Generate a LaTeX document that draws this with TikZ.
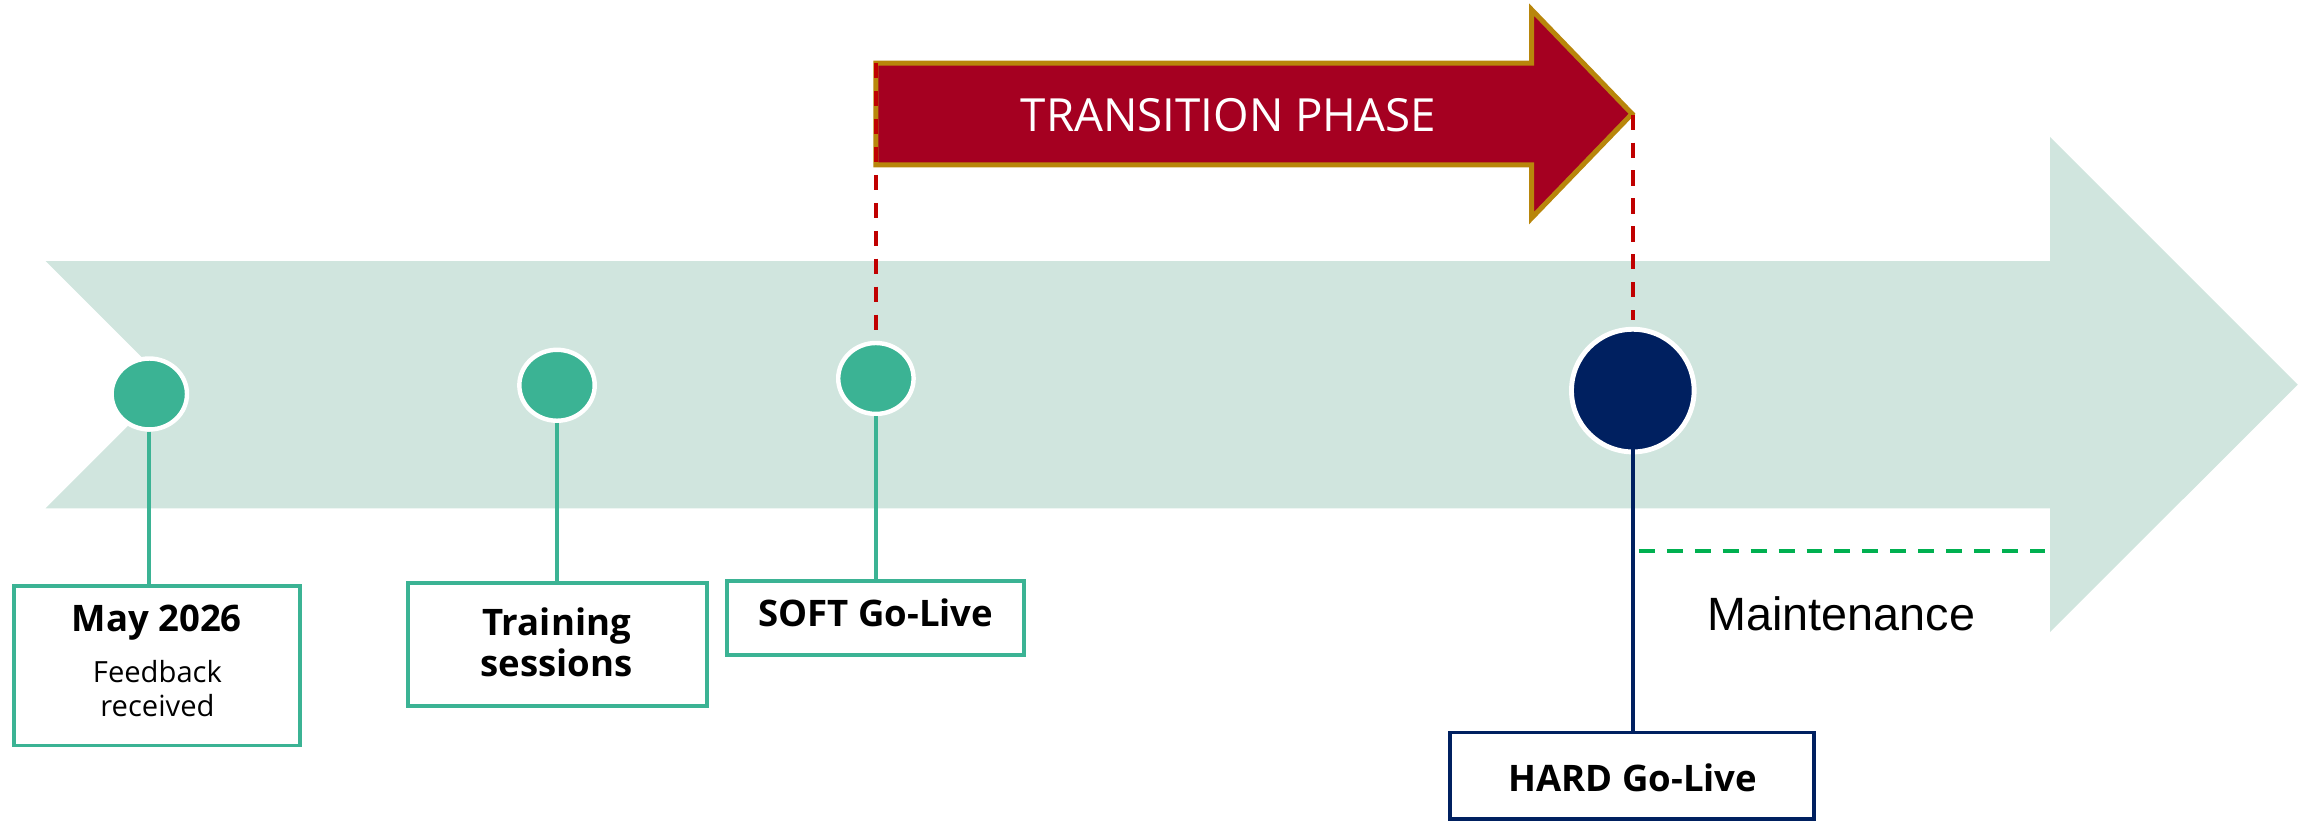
\documentclass[tikz,border=0pt]{standalone}
\usepackage{fontspec}
\setmainfont{Open Sans}
\newfontfamily\arialfont{Liberation Sans}
\usetikzlibrary{shapes.geometric}
\definecolor{tlgreen}{HTML}{D0E5DE}
\definecolor{dotgreen}{HTML}{3BB394}
\definecolor{navyblue}{HTML}{002060}
\definecolor{phasered}{HTML}{A50021}
\definecolor{phasegold}{HTML}{B8860B}
\definecolor{dashred}{HTML}{C00000}
\definecolor{dashgreen}{HTML}{00B050}
\begin{document}
\begin{tikzpicture}[x=0.0147832cm,y=-0.0147832cm,
  dot/.style={ellipse, fill=dotgreen, draw=white, line width=1.26pt, inner sep=0pt,
              minimum width=21.45pt, minimum height=20.19pt},
  bigdot/.style={circle, fill=navyblue, draw=white, line width=1.39pt, inner sep=0pt,
              minimum size=34.9pt},
  gbox/.style={draw=dotgreen, line width=1.1pt, fill=white, inner sep=0pt},
  nbox/.style={draw=navyblue, line width=1.1pt, fill=white, inner sep=0pt},
  boldlbl/.style={font=\fontsize{10.4}{12}\selectfont\bfseries, anchor=base, inner sep=0pt},
  smalllbl/.style={font=\fontsize{8.3}{10}\selectfont, anchor=base, inner sep=0pt},
  gline/.style={draw=dotgreen, line width=1.1pt},
  rdash/.style={draw=dashred, line width=1.15pt, dash pattern=on 4.33pt off 3.62pt},
  gdash/.style={draw=dashgreen, line width=1.1pt, dash pattern=on 4.54pt off 3.41pt},
  ]
\useasboundingbox (0,0) rectangle (1568,558);

% big timeline arrow
\fill[tlgreen] (30.9,176.6) -- (1386.7,176.6) -- (1386.7,92.5) -- (1554.3,260.2)
  -- (1386.7,427.5) -- (1386.7,343.8) -- (30.9,343.8) -- (114.5,260.2) -- cycle;

% transition phase arrow
\draw[fill=phasered, draw=phasegold, line width=1.43pt] (592.5,42.7) -- (1036,42.7)
  -- (1036,6.5) -- (1104,77) -- (1036,147.5) -- (1036,111.5) -- (592.5,111.5) -- cycle;
\coordinate (ptl) at (592.5,42.7);
\coordinate (ptip) at (1104.7,77.5);
\node[font=\fontsize{13}{15}\selectfont, text=white, anchor=base, inner sep=0pt] (tp)
  at (831,89) {TRANSITION PHASE};

% milestones
\node[dot] (c1) at (101,266.5) {};
\node[dot] (c2) at (376.8,260.6) {};
\node[dot] (c3) at (592.5,256) {};
\node[bigdot] (c4) at (1104.5,264.2) {};

% boxes
\node[gbox, minimum width=81.52pt, minimum height=45.43pt] (b1) at (106.1,450.3) {};
\node[gbox, minimum width=85.05pt, minimum height=35.12pt] (b2) at (377.1,435.8) {};
\node[gbox, minimum width=84.5pt, minimum height=21.2pt] (b3) at (592.3,418) {};
\node[nbox, minimum width=103.5pt, minimum height=24.5pt] (b4) at (1104,524.6) {};

% connectors
\draw[gline] (c1.south) -- (c1.south |- b1.north);
\draw[gline] (c2.south) -- (c2.south |- b2.north);
\draw[gline] (c3.south) -- (c3.south |- b3.north);
\draw[navyblue, line width=1pt] (c4.center) -- (c4.center |- b4.north);
\draw[rdash, shorten >=3pt] (ptl) -- (ptl |- c3.north);
\draw[rdash, shorten >=2pt] (ptip) -- (ptip |- c4.north);

% maintenance
\coordinate (m1) at (1108.6,372.5);
\coordinate (m2) at (1383.4,372.5);
\draw[gdash] (m1) -- (m2);
\node[font=\arialfont\fontsize{13.3}{15}\selectfont, anchor=base, inner sep=0pt] (mt)
  at (1245.5,426.2) {Maintenance};

% labels
\node[boldlbl] (t1) at (106,427.3) {May 2026};
\node[smalllbl] (t1b) at (106.5,461.8) {Feedback};
\node[smalllbl] (t1c) at (106.5,484.8) {received};
\node[boldlbl] (t2) at (376.6,430) {Training};
\node[boldlbl] (t2b) at (376.6,457.7) {sessions};
\node[boldlbl] (t3) at (592.5,423.5) {SOFT Go-Live};
\node[boldlbl] (t4) at (1104.6,535.5) {HARD Go-Live};
\end{tikzpicture}
\end{document}
